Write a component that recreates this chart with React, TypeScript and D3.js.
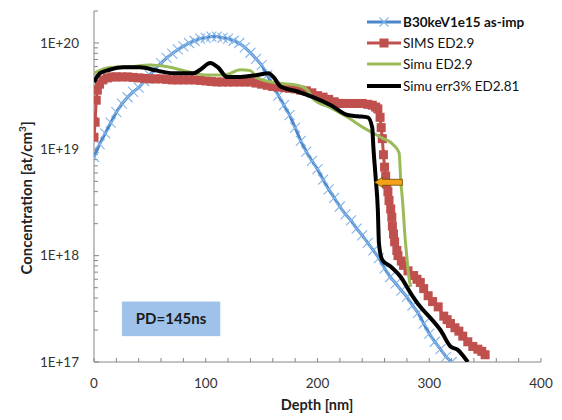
import React, { useEffect, useRef } from 'react';
import * as d3 from 'd3';

// depth [nm] / concentration [at/cm3]
const asImp = [
  [0, 8.5e18], [5, 1.12e19], [10, 1.41e19], [15, 1.78e19], [20, 2.24e19], [25, 2.69e19],
  [30, 3.09e19], [35, 3.47e19], [40, 3.8e19], [45, 4.37e19], [50, 5.0e19], [55, 5.75e19],
  [60, 6.46e19], [65, 7.24e19], [70, 7.94e19], [75, 8.7e19], [80, 9.3e19], [85, 1.0e20],
  [90, 1.05e20], [95, 1.1e20], [100, 1.12e20], [105, 1.15e20], [110, 1.15e20], [115, 1.12e20],
  [120, 1.1e20], [125, 1.05e20], [130, 1.0e20], [135, 9.1e19], [140, 8.1e19], [145, 7.1e19],
  [150, 6.2e19], [155, 5.0e19], [160, 4.0e19], [165, 3.2e19], [170, 2.6e19], [175, 2.1e19],
  [180, 1.6e19], [185, 1.2e19], [190, 9.5e18], [195, 7.8e18], [200, 6.5e18], [205, 5.2e18],
  [210, 4.2e18], [215, 3.5e18], [220, 2.9e18], [225, 2.45e18], [230, 2.15e18], [235, 1.8e18],
  [240, 1.55e18], [245, 1.32e18], [250, 1.12e18], [255, 9.5e17], [260, 7.6e17], [265, 6.3e17],
  [270, 5.5e17], [275, 4.7e17], [280, 4.1e17], [285, 3.4e17], [290, 2.9e17], [295, 2.3e17],
  [300, 1.85e17], [305, 1.55e17], [310, 1.32e17], [315, 1.12e17], [320, 1.0e17],
];

const sims = [
  [0, 1.3e19], [1, 1.8e19], [2, 2.9e19], [3, 3.6e19], [5, 4.1e19], [8, 4.5e19], [12, 4.7e19],
  [16, 4.8e19], [20, 4.8e19], [25, 4.8e19], [30, 4.8e19], [35, 4.75e19], [40, 4.7e19],
  [45, 4.65e19], [50, 4.6e19], [55, 4.6e19], [60, 4.6e19], [65, 4.55e19], [70, 4.5e19],
  [75, 4.5e19], [80, 4.5e19], [85, 4.5e19], [90, 4.5e19], [95, 4.45e19], [100, 4.4e19],
  [105, 4.35e19], [110, 4.3e19], [115, 4.3e19], [120, 4.3e19], [125, 4.3e19], [130, 4.3e19],
  [135, 4.3e19], [140, 4.3e19], [145, 4.2e19], [150, 4.1e19], [155, 4.0e19], [160, 3.9e19],
  [165, 3.85e19], [170, 3.8e19], [175, 3.75e19], [180, 3.7e19], [185, 3.6e19], [190, 3.55e19],
  [195, 3.4e19], [200, 3.2e19], [205, 3.1e19], [210, 2.95e19], [215, 2.8e19], [220, 2.7e19],
  [225, 2.7e19], [230, 2.7e19], [235, 2.7e19], [240, 2.7e19], [245, 2.65e19], [249, 2.6e19],
  [252, 2.5e19], [254, 2.4e19], [256, 2.0e19], [257, 1.6e19], [258, 1.26e19], [259, 8.9e18],
  [260, 6.8e18], [261, 5.6e18], [262, 4.7e18], [263, 4.0e18], [264, 3.3e18], [265.5, 2.75e18],
  [266.5, 2.3e18], [267, 1.9e18], [268, 1.6e18], [269, 1.35e18], [271, 1.12e18], [272, 1.0e18],
  [275, 8.9e17], [277, 8.1e17], [281, 7.2e17], [286, 6.5e17], [289, 6.0e17], [292, 5.6e17],
  [295, 4.9e17], [299, 4.2e17], [303, 3.7e17], [308, 3.3e17], [313, 2.7e17], [316, 2.5e17],
  [319, 2.3e17], [323, 2.1e17], [326.5, 1.95e17], [330, 1.75e17], [334.5, 1.55e17],
  [339, 1.4e17], [343.5, 1.32e17], [347, 1.26e17], [350, 1.17e17],
];

const simu = [
  [0, 5.2e19], [14, 5.9e19], [32, 6.0e19], [50, 6.2e19], [65, 6.0e19], [83, 5.4e19],
  [101, 5.0e19], [117, 5.0e19], [131, 5.6e19], [140, 5.5e19], [146, 4.7e19], [164, 4.2e19],
  [182, 4.0e19], [191, 3.6e19], [196, 3.0e19], [212, 2.45e19], [227, 2.0e19], [241, 1.6e19],
  [256.5, 1.3e19], [268, 1.1e19], [273, 9.3e18], [274.5, 5.1e18], [276.5, 2.9e18],
  [278, 1.66e18], [280, 9.6e17], [281.5, 6.6e17], [283.5, 5.1e17],
];

const simuErr = [
  [0, 4.3e19], [5.4, 5.2e19], [14, 5.6e19], [26, 5.9e19], [41, 5.9e19], [56.5, 5.5e19],
  [71, 5.2e19], [89, 5.2e19], [95, 5.6e19], [104, 6.5e19], [111, 5.9e19], [119, 4.8e19],
  [131, 4.8e19], [146, 5.0e19], [156, 5.2e19], [160.5, 4.8e19], [167, 3.9e19], [182, 3.5e19],
  [196, 3.1e19], [212, 2.6e19], [227, 2.1e19], [236, 2.05e19], [245, 2.0e19], [249, 1.6e19],
  [250, 1.05e19], [252, 5.5e18], [254, 2.7e18], [255, 1.3e18], [258, 9.1e17], [265.5, 7.9e17],
  [274.5, 6.3e17], [283, 4.5e17], [292, 3.3e17], [301, 2.6e17], [310, 2.0e17], [319, 1.4e17],
  [325.5, 1.3e17], [331, 1.12e17], [334.5, 1.0e17],
];

const seriesNames = ['B30keV1e15 as-imp', 'SIMS ED2.9', 'Simu ED2.9', 'Simu err3% ED2.81'];
const xTicks = [0, 100, 200, 300, 400];
const yTicks = [1e17, 1e18, 1e19, 1e20];

const font = 'Lato, "Open Sans", sans-serif';

const App = () => {
  const svgRef = useRef(null);

  useEffect(() => {
    const svg = d3.select(svgRef.current);
    svg.selectAll('*').remove();

    const x = d3.scaleLinear().domain([0, 400]).range([94, 541]);
    const y = d3.scaleLog().domain([1e17, 2e20]).range([362, 11]);
    const [x0, x1] = x.range();
    const [yb, yt] = y.range();

    svg.append('defs').append('clipPath').attr('id', 'plot')
      .append('rect').attr('x', x0).attr('y', yt).attr('width', x1 - x0).attr('height', yb - yt);

    // axes
    const axisColor = '#868686';
    svg.append('line').attr('x1', x0).attr('x2', x0).attr('y1', yt).attr('y2', yb)
      .attr('stroke', axisColor);
    svg.append('line').attr('x1', x0).attr('x2', x1).attr('y1', yb).attr('y2', yb)
      .attr('stroke', axisColor);

    const xMinor = d3.range(0, 401, 20);
    svg.selectAll('.xt').data(xMinor).enter().append('line')
      .attr('x1', d => x(d)).attr('x2', d => x(d))
      .attr('y1', yb).attr('y2', yb - 4).attr('stroke', axisColor);

    const yMinor = [];
    [17, 18, 19, 20].forEach(e => {
      for (let m = 1; m < 10; m++) {
        const v = m * Math.pow(10, e);
        if (v <= 2e20) yMinor.push(v);
      }
    });
    svg.selectAll('.yt').data(yMinor).enter().append('line')
      .attr('x1', x0).attr('x2', d => x0 + (yTicks.includes(d) ? 5 : 4))
      .attr('y1', d => y(d)).attr('y2', d => y(d)).attr('stroke', axisColor);

    svg.selectAll('.xl').data(xTicks).enter().append('text')
      .attr('x', d => x(d)).attr('y', 388)
      .attr('text-anchor', 'middle').attr('font-family', font).attr('font-size', 13.5)
      .attr('fill', '#333').text(d => d);

    svg.selectAll('.yl').data(yTicks).enter().append('text')
      .attr('x', 79).attr('y', d => y(d)).attr('dy', '0.35em')
      .attr('text-anchor', 'end').attr('font-family', font).attr('font-size', 13.5)
      .attr('fill', '#333').text(d => '1E+' + Math.round(Math.log10(d)));

    svg.append('text').attr('x', 317).attr('y', 410).attr('text-anchor', 'middle')
      .attr('font-family', font).attr('font-size', 14.5).attr('font-weight', 'bold')
      .attr('fill', '#222').text('Depth [nm]');

    const yTitle = svg.append('text')
      .attr('transform', 'translate(32,198) rotate(-90)').attr('text-anchor', 'middle')
      .attr('font-family', font).attr('font-size', 15).attr('font-weight', 'bold').attr('fill', '#222');
    yTitle.append('tspan').text('Concentration [at/cm');
    yTitle.append('tspan').attr('font-size', 10).attr('dy', -6).text('3');
    yTitle.append('tspan').attr('dy', 6).text(']');

    // series
    const plot = svg.append('g').attr('clip-path', 'url(#plot)');
    const lineLin = d3.line().x(d => x(d[0])).y(d => y(d[1]));
    const lineSmooth = d3.line().x(d => x(d[0])).y(d => y(d[1])).curve(d3.curveMonotoneX);

    const blue = '#4a86c8';
    const red = '#c0504d';
    const green = '#9bbb59';

    plot.append('path').datum(asImp).attr('d', lineLin)
      .attr('fill', 'none').attr('stroke', blue).attr('stroke-width', 3);
    const cross = (sel, s) => sel.append('path')
      .attr('d', `M${-s},${-s}L${s},${s}M${-s},${s}L${s},${-s}`)
      .attr('stroke', '#86b6ea').attr('stroke-width', 1.1);
    plot.selectAll('.bm').data(asImp).enter().append('g')
      .attr('transform', d => `translate(${x(d[0])},${y(d[1])})`)
      .call(sel => cross(sel, 5));

    plot.append('path').datum(sims).attr('d', lineLin)
      .attr('fill', 'none').attr('stroke', red).attr('stroke-width', 3);
    plot.selectAll('.rm').data(sims).enter().append('rect')
      .attr('x', d => x(d[0]) - 4.5).attr('y', d => y(d[1]) - 4.5)
      .attr('width', 9).attr('height', 9).attr('fill', red);

    plot.append('path').datum(simu).attr('d', lineSmooth)
      .attr('fill', 'none').attr('stroke', green).attr('stroke-width', 3);

    plot.append('path').datum(simuErr).attr('d', lineSmooth)
      .attr('fill', 'none').attr('stroke', '#000').attr('stroke-width', 4);

    // shift arrow
    const ay = y(4.9e18);
    const tip = x(251);
    const tail = x(276);
    const head = tip + 8;
    svg.append('path')
      .attr('d', `M${tip},${ay}L${head},${ay - 5}L${head},${ay - 3}L${tail},${ay - 3}L${tail},${ay + 3}L${head},${ay + 3}L${head},${ay + 5}Z`)
      .attr('fill', '#f5a21b').attr('stroke', '#6b4a00').attr('stroke-width', 0.8);

    // PD box
    const bx0 = x(25), bx1 = x(113), by0 = y(3.7e17), by1 = y(1.75e17);
    svg.append('rect').attr('x', bx0).attr('y', by0).attr('width', bx1 - bx0).attr('height', by1 - by0)
      .attr('fill', '#9fc2ea');
    svg.append('text').attr('x', (bx0 + bx1) / 2).attr('y', (by0 + by1) / 2).attr('dy', '0.35em')
      .attr('text-anchor', 'middle').attr('font-family', font).attr('font-size', 15)
      .attr('font-weight', 'bold').attr('fill', '#1a1a1a').text('PD=145ns');

    // legend
    const legY = [22, 43, 64, 86];
    const colors = [blue, red, green, '#000'];
    const lg = svg.append('g');
    seriesNames.forEach((name, i) => {
      lg.append('line').attr('x1', 367).attr('x2', 401).attr('y1', legY[i]).attr('y2', legY[i])
        .attr('stroke', colors[i]).attr('stroke-width', i === 3 ? 4 : 3);
      if (i === 0) {
        const g = lg.append('g').attr('transform', `translate(384,${legY[i]})`);
        cross(g, 4.5);
      }
      if (i === 1) {
        lg.append('rect').attr('x', 379.5).attr('y', legY[i] - 4.5).attr('width', 9).attr('height', 9)
          .attr('fill', red);
      }
      lg.append('text').attr('x', 403).attr('y', legY[i]).attr('dy', '0.35em')
        .attr('font-family', font).attr('font-size', 13.5)
        .attr('font-weight', i === 0 ? 'bold' : 'normal').attr('fill', '#111').text(name);
    });
  }, []);

  return (
    <svg ref={svgRef} width={562} height={420}
      style={{ position: 'absolute', left: 0, top: 0, background: '#fff' }}></svg>
  );
};

export default App;
